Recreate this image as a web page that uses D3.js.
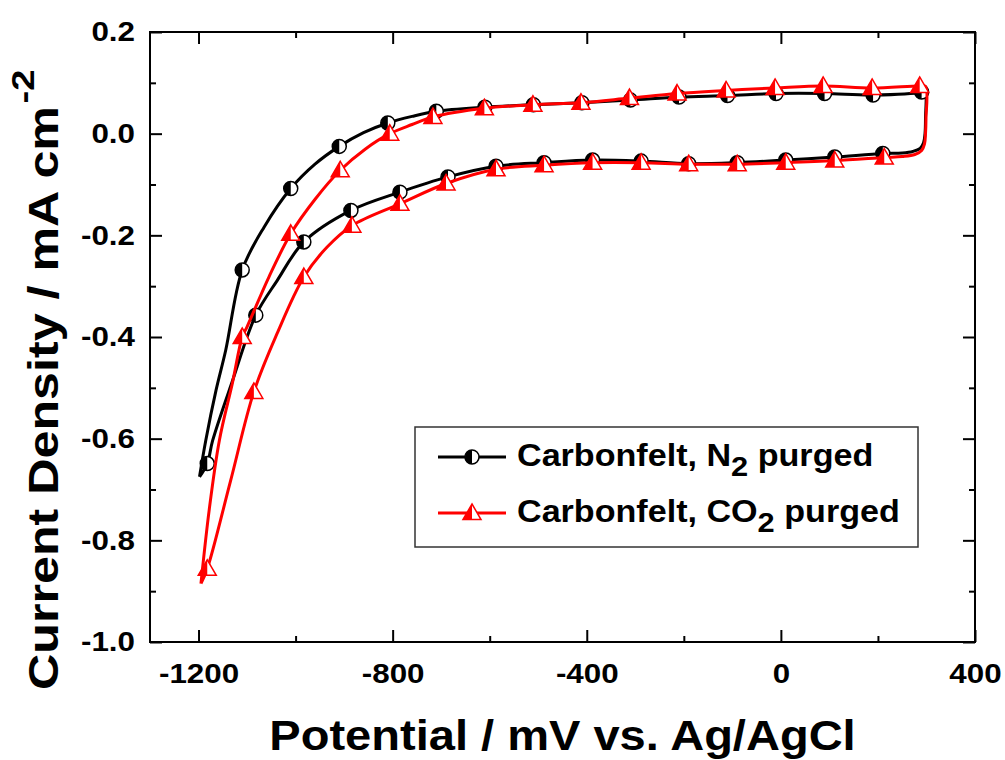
<!DOCTYPE html>
<html>
<head>
<meta charset="utf-8">
<script src="https://cdn.jsdelivr.net/npm/d3@7"></script>
<style>
  body { margin: 0; background: #fff; }
  text { font-family: "Liberation Sans", Arial, sans-serif; font-weight: bold; }
</style>
</head>
<body>
<div id="chart"></div>
<script>
// Tick values
const xMajorTicks = [-1200, -800, -400, 0, 400];
const xMinorTicks = [-1000, -600, -200, 200];
const yMajorTicks = [-1.0, -0.8, -0.6, -0.4, -0.2, 0.0, 0.2];
const yMinorTicks = [-0.9, -0.7, -0.5, -0.3, -0.1, 0.1];

// N2 purged: [potential mV, current density mA cm-2]
const n2Upper = [[-1198,-0.675],[-1185,-0.603],[-1164,-0.505],[-1144,-0.426],[-1110,-0.268],[-1065,-0.184],[-1010,-0.108],[-960,-0.06],[-910,-0.025],[-860,0.002],[-810,0.021],[-760,0.034],[-710,0.044],[-610,0.052],[-510,0.057],[-410,0.061],[-310,0.066],[-210,0.072],[-110,0.075],[-10,0.079],[90,0.079],[190,0.076],[290,0.082],[297,0.085]];
const n2Lower = [[297,0.085],[298,0.03],[297,0.0],[294,-0.018],[287,-0.029],[272,-0.035],[250,-0.038],[210,-0.039],[111,-0.046],[10,-0.052],[-90,-0.057],[-190,-0.059],[-288,-0.054],[-388,-0.052],[-488,-0.057],[-587,-0.064],[-686,-0.085],[-785,-0.115],[-886,-0.151],[-983,-0.213],[-1038,-0.289],[-1082,-0.357],[-1130,-0.486],[-1171,-0.604],[-1182,-0.649],[-1198,-0.675]];
const n2Markers = [[-1110,-0.268],[-1010,-0.108],[-910,-0.025],[-810,0.021],[-710,0.044],[-610,0.052],[-510,0.057],[-410,0.061],[-310,0.066],[-210,0.072],[-110,0.075],[-10,0.079],[90,0.079],[190,0.076],[290,0.082],
  [210,-0.039],[111,-0.046],[10,-0.052],[-90,-0.057],[-190,-0.059],[-288,-0.054],[-388,-0.052],[-488,-0.057],[-587,-0.064],[-686,-0.085],[-785,-0.115],[-886,-0.151],[-983,-0.213],[-1082,-0.357],[-1182,-0.649]];

// CO2 purged
const co2Upper = [[-1195,-0.885],[-1178,-0.74],[-1157,-0.603],[-1130,-0.49],[-1110,-0.40],[-1100,-0.38],[-1055,-0.282],[-1010,-0.197],[-959,-0.128],[-908,-0.072],[-856,-0.03],[-806,0.000],[-760,0.018],[-717,0.033],[-611,0.05],[-511,0.057],[-412,0.061],[-312,0.07],[-214,0.079],[-113,0.085],[-12,0.09],[87,0.094],[188,0.09],[286,0.094],[298,0.093]];
const co2Lower = [[298,0.093],[299,0.03],[298,0.0],[296,-0.02],[290,-0.033],[276,-0.041],[250,-0.045],[213,-0.047],[111,-0.053],[10,-0.057],[-90,-0.06],[-190,-0.06],[-288,-0.057],[-388,-0.057],[-488,-0.062],[-587,-0.07],[-690,-0.098],[-785,-0.138],[-884,-0.181],[-935,-0.223],[-983,-0.282],[-1038,-0.393],[-1086,-0.508],[-1134,-0.683],[-1182,-0.856],[-1195,-0.885]];
const co2Markers = [[-1110,-0.40],[-1010,-0.197],[-908,-0.072],[-806,0.000],[-717,0.033],[-611,0.05],[-511,0.057],[-412,0.061],[-312,0.07],[-214,0.079],[-113,0.085],[-12,0.09],[87,0.094],[188,0.09],[286,0.094],
  [213,-0.047],[111,-0.053],[10,-0.057],[-90,-0.06],[-190,-0.06],[-288,-0.057],[-388,-0.057],[-488,-0.062],[-587,-0.07],[-690,-0.098],[-785,-0.138],[-884,-0.181],[-983,-0.282],[-1086,-0.508],[-1182,-0.856]];

const legendLabels = [["Carbonfelt, N", "2", " purged"], ["Carbonfelt, CO", "2", " purged"]];

const width = 1005, height = 760;
const margin = { top: 32, right: 30, bottom: 118, left: 150 };
const innerWidth = width - margin.left - margin.right;
const innerHeight = height - margin.top - margin.bottom;
const sx = 1.12; // the original fonts are a bit wider than Arial

// widen text a little without moving it
const stretch = (sel, k) => sel.each(function () {
  const len = this.getComputedTextLength();
  this.setAttribute("textLength", (len * k).toFixed(1));
  this.setAttribute("lengthAdjust", "spacingAndGlyphs");
});

const x = d3.scaleLinear().domain([-1300, 400]).range([0, innerWidth]);
const y = d3.scaleLinear().domain([-1.0, 0.2]).range([innerHeight, 0]);

const svg = d3.select("#chart").append("svg")
  .attr("width", width).attr("height", height);
const g = svg.append("g").attr("transform", `translate(${margin.left},${margin.top})`);

// Frame
g.append("rect").attr("width", innerWidth).attr("height", innerHeight)
  .attr("fill", "none").attr("stroke", "#000").attr("stroke-width", 2);

// Axes, ticks pointing inward on all four sides
const styleAxis = sel => {
  sel.select(".domain").remove();
  sel.selectAll(".tick line").attr("stroke", "#000").attr("stroke-width", 2);
  sel.selectAll(".tick text").filter(function () { return this.textContent === ""; }).remove();
};
const addAxis = (axis, transform) => g.append("g").attr("transform", transform).call(axis).call(styleAxis);

const bottom = addAxis(d3.axisBottom(x).tickValues(xMajorTicks).tickSize(-12).tickPadding(21).tickFormat(d => String(d)), `translate(0,${innerHeight})`);
addAxis(d3.axisBottom(x).tickValues(xMinorTicks).tickSize(-6).tickFormat(""), `translate(0,${innerHeight})`);
addAxis(d3.axisTop(x).tickValues(xMajorTicks).tickSize(-12).tickFormat(""), "translate(0,0)");
addAxis(d3.axisTop(x).tickValues(xMinorTicks).tickSize(-6).tickFormat(""), "translate(0,0)");
const left = addAxis(d3.axisLeft(y).tickValues(yMajorTicks).tickSize(-12).tickPadding(15).tickFormat(d => d.toFixed(1)), "translate(0,0)");
addAxis(d3.axisLeft(y).tickValues(yMinorTicks).tickSize(-6).tickFormat(""), "translate(0,0)");
addAxis(d3.axisRight(y).tickValues(yMajorTicks).tickSize(-12).tickFormat(""), `translate(${innerWidth},0)`);
addAxis(d3.axisRight(y).tickValues(yMinorTicks).tickSize(-6).tickFormat(""), `translate(${innerWidth},0)`);

bottom.selectAll(".tick text").attr("font-size", 28).attr("fill", "#000").call(stretch, sx);
left.selectAll(".tick text").attr("font-size", 28).attr("fill", "#000").call(stretch, sx);

// Axis titles
svg.append("text")
  .attr("x", margin.left + innerWidth / 2).attr("y", 750)
  .attr("text-anchor", "middle").attr("font-size", 42)
  .text("Potential / mV vs. Ag/AgCl")
  .call(stretch, sx);

const yTitle = svg.append("text")
  .attr("transform", "rotate(-90)")
  .attr("x", -690).attr("y", 58)
  .attr("font-size", 42);
yTitle.append("tspan").text("Current Density / mA cm");
yTitle.append("tspan").attr("font-size", 32).attr("dx", 2).attr("dy", -24).text("-2");
yTitle.call(stretch, 1.2);

// Curves
const line = d3.line()
  .x(d => x(d[0])).y(d => y(d[1]))
  .curve(d3.curveCatmullRom.alpha(0.5));

const circleMarker = (sel, color) => {
  sel.append("circle").attr("r", 7).attr("fill", "#fff").attr("stroke", color).attr("stroke-width", 1.5);
  sel.append("path").attr("d", "M0,-7A7,7 0 0,0 0,7Z").attr("fill", color);
};
const triangleMarker = (sel, color) => {
  sel.append("path").attr("d", "M0,-9L9,6.5L-9,6.5Z").attr("fill", "#fff")
    .attr("stroke", color).attr("stroke-width", 1.5).attr("stroke-linejoin", "miter");
  sel.append("path").attr("d", "M0,-9L0,6.5L-9,6.5Z").attr("fill", color);
};

const drawSeries = (upper, lower, markers, color, marker) => {
  g.append("path")
    .datum(upper.concat(lower.slice(1)))
    .attr("d", line)
    .attr("fill", "none").attr("stroke", color).attr("stroke-width", 3)
    .attr("stroke-linejoin", "round");
  g.selectAll(null).data(markers).enter().append("g")
    .attr("transform", d => `translate(${x(d[0])},${y(d[1])})`)
    .each(function () { marker(d3.select(this), color); });
};

drawSeries(n2Upper, n2Lower, n2Markers, "#000", circleMarker);
drawSeries(co2Upper, co2Lower, co2Markers, "#ff0000", triangleMarker);

// Legend
const legend = svg.append("g");
legend.append("rect")
  .attr("x", 415).attr("y", 427).attr("width", 503).attr("height", 120)
  .attr("fill", "#fff").attr("stroke", "#333").attr("stroke-width", 1.5);

const legendItems = [
  { color: "#000", marker: circleMarker, y: 457 },
  { color: "#ff0000", marker: triangleMarker, y: 513 }
];
legendItems.forEach((item, i) => {
  legend.append("line")
    .attr("x1", 438).attr("x2", 506).attr("y1", item.y).attr("y2", item.y)
    .attr("stroke", item.color).attr("stroke-width", 3);
  const m = legend.append("g").attr("transform", `translate(472,${item.y})`);
  item.marker(m, item.color);
  const t = legend.append("text")
    .attr("x", 517).attr("y", item.y + 9)
    .attr("font-size", 31);
  t.append("tspan").text(legendLabels[i][0]);
  t.append("tspan").attr("font-size", 28).attr("dy", 10).text(legendLabels[i][1]);
  t.append("tspan").attr("dy", -10).text(legendLabels[i][2]);
  t.call(stretch, 1.1);
});
</script>
</body>
</html>
